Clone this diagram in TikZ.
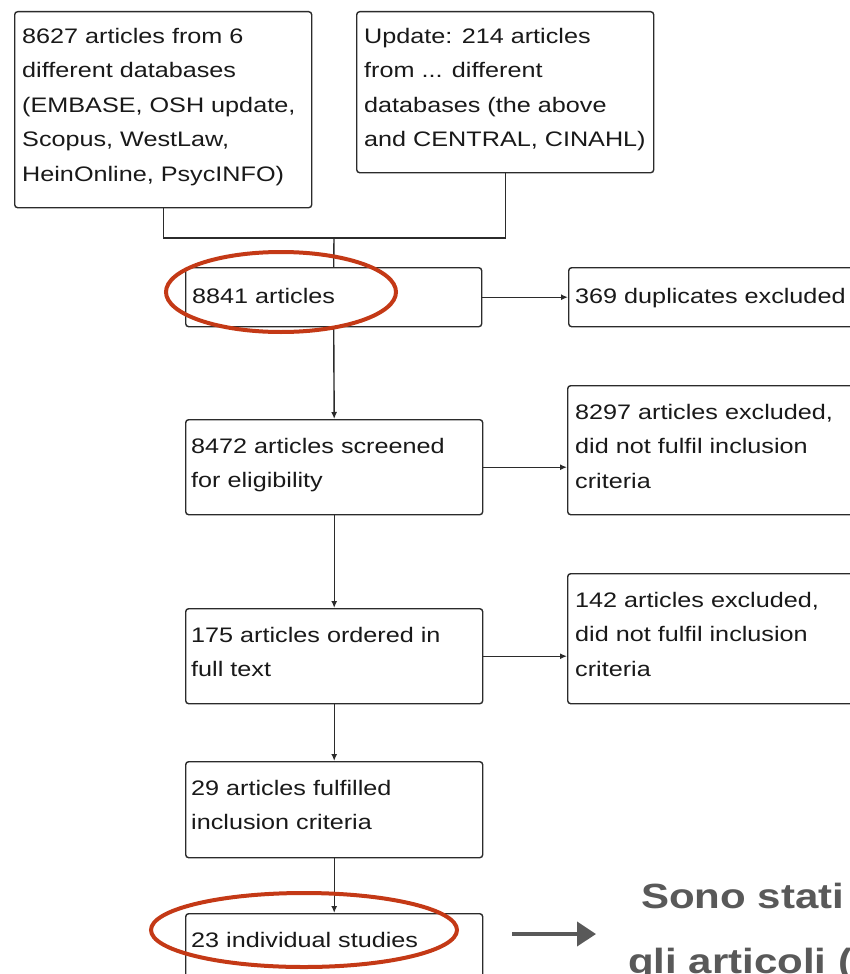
\documentclass[tikz,border=0pt]{standalone}
\usepackage{fontspec}
\usetikzlibrary{arrows.meta}
\newfontfamily\boxfont[FakeStretch=1.2]{Liberation Sans}
\newfontfamily\notefont[FakeStretch=1.2]{Liberation Sans}
\definecolor{boxline}{HTML}{2B2B2B}
\definecolor{redring}{HTML}{C43916}
\definecolor{notegray}{HTML}{595959}
\tikzset{
  box/.style={draw=boxline, line width=1.4pt, rounded corners=3pt, inner sep=0pt, anchor=north west, fill=white},
  txt/.style={anchor=north west, inner sep=0pt, align=left, text=black!90, font={\boxfont\fontsize{21}{34.5}\selectfont}},
  conn/.style={draw=boxline, line width=1.4pt},
  arr/.style={conn, -{Latex[length=7pt,width=6pt]}},
  ring/.style={draw=redring, line width=4pt},
  note/.style={anchor=base west, inner sep=0pt, text=notegray, font={\notefont\bfseries\fontsize{35}{42}\selectfont}},
  bigarr/.style={draw=notegray, line width=4pt, -{Triangle[length=19pt,width=24pt]}}
}
\begin{document}
\begin{tikzpicture}[x=1pt,y=-1pt]
\useasboundingbox (0,0) rectangle (850,974);
\fill[white] (0,0) rectangle (850,974);
\clip (0,0) rectangle (850,974);
% boxes
\node[box, minimum width=297pt, minimum height=196pt] (b1) at (14,11) {};
\node[box, minimum width=297pt, minimum height=161pt] (b2) at (356,11) {};
\node[box, minimum width=296pt, minimum height=59pt] (n1) at (185,267) {};
\node[box, minimum width=340pt, minimum height=59pt] (r1) at (568,267) {};
\node[box, minimum width=297pt, minimum height=95pt] (n2) at (185,419) {};
\node[box, minimum width=340pt, minimum height=129pt] (r2) at (567,385) {};
\node[box, minimum width=297pt, minimum height=95pt] (n3) at (185,608) {};
\node[box, minimum width=340pt, minimum height=130pt] (r3) at (567,573) {};
\node[box, minimum width=297pt, minimum height=96pt] (n4) at (185,761) {};
\node[box, minimum width=297pt, minimum height=90pt] (n5) at (185,913) {};
% texts
\node[txt] (t1) at ([xshift=8pt,yshift=-17pt]b1.north west) {8627 articles from 6\\different databases\\(EMBASE, OSH update,\\Scopus, WestLaw,\\HeinOnline, PsycINFO)};
\node[txt] (t2) at ([xshift=8pt,yshift=-17pt]b2.north west) {Update: 214 articles\\from ... different\\databases (the above\\and CENTRAL, CINAHL)};
\node[txt] (tn1) at ([xshift=7pt,yshift=-21pt]n1.north west) {8841 articles};
\node[txt] (tr1) at ([xshift=7pt,yshift=-21pt]r1.north west) {369 duplicates excluded};
\node[txt] (tn2) at ([xshift=6pt,yshift=-19pt]n2.north west) {8472 articles screened\\for eligibility};
\node[txt] (tr2) at ([xshift=8pt,yshift=-19pt]r2.north west) {8297 articles excluded,\\did not fulfil inclusion\\criteria};
\node[txt] (tn3) at ([xshift=6pt,yshift=-19pt]n3.north west) {175 articles ordered in\\full text};
\node[txt] (tr3) at ([xshift=8pt,yshift=-19pt]r3.north west) {142 articles excluded,\\did not fulfil inclusion\\criteria};
\node[txt] (tn4) at ([xshift=6pt,yshift=-19pt]n4.north west) {29 articles fulfilled\\inclusion criteria};
\node[txt] (tn5) at ([xshift=6pt,yshift=-19pt]n5.north west) {23 individual studies};
% connectors
\coordinate (j) at (334,238);
\draw[conn] (b1.south) |- (j) -| (b2.south);
\draw[conn] (j) -- (n1.north);
\draw[arr] (n1.east) -- (r1.west);
\draw[arr] (n1.south) -- (n2.north);
\draw[arr] (n2.east) -- (n2.east -| r2.west);
\draw[arr] (n2.south) -- (n3.north);
\draw[arr] (n3.east) -- (n3.east -| r3.west);
\draw[arr] (n3.south) -- (n4.north);
\draw[arr] (n4.south) -- (n5.north);
% red rings
\draw[ring] (281,292) ellipse [x radius=115, y radius=40];
\draw[ring] (304,930) ellipse [x radius=153, y radius=37];
% note
\coordinate (a1) at (512,934);
\coordinate (a2) at (596,934);
\draw[bigarr] (a1) -- (a2);
\node[note] (s1) at (641,908) {Sono stati};
\node[note] (s2) at (628,973) {gli articoli (};
\end{tikzpicture}
\end{document}
